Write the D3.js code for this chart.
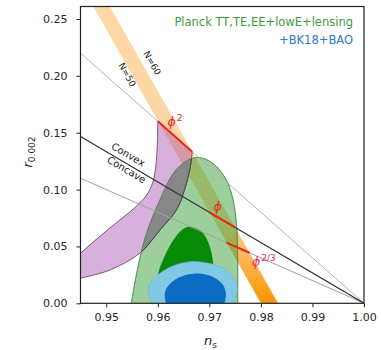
<!DOCTYPE html>
<html>
<head>
<meta charset="utf-8">
<script src="https://cdn.jsdelivr.net/npm/d3@7"></script>
<style>
  body { margin: 0; background: #fff; }
  svg { font-family: "DejaVu Sans", sans-serif; }
</style>
</head>
<body>
<svg id="chart" width="381" height="350"></svg>
<script>
// ---- data ----
const xTicks = [0.95, 0.96, 0.97, 0.98, 0.99, 1.00];
const yTicks = [0.00, 0.05, 0.10, 0.15, 0.20, 0.25];

// N=50 / N=60 edges of the phi^p band
const edgeN50 = [[0.9475, 0.261], [0.9800, 0.0]];
const edgeN60 = [[0.95070, 0.261], [0.98333, 0.0]];

// straight gray lines to (1, 0)
const lineUpper = [[0.945, 0.2200], [1.0, 0.0]];
const lineConvex = [[0.945, 0.1467], [1.0, 0.0]];
const lineLower = [[0.945, 0.1100], [1.0, 0.0]];

// red segments N=50..60
const segPhi2 = [[0.96000, 0.16000], [0.96667, 0.13333]];
const segPhi1 = [[0.97000, 0.08000], [0.97500, 0.06667]];
const segPhi23 = [[0.97333, 0.05333], [0.97778, 0.04444]];

// purple (natural inflation) band
const purpleOuter = [[0.9440, 0.0400], [0.9450, 0.0440], [0.9480, 0.0560], [0.9520, 0.0710], [0.9555, 0.0840],
  [0.9578, 0.0950], [0.9590, 0.1060], [0.9596, 0.1200], [0.9599, 0.1400], [0.9600, 0.1600]];
const purpleInner = [[0.96667, 0.13333], [0.9663, 0.1200], [0.9652, 0.1000], [0.9636, 0.0820], [0.9604, 0.0644],
  [0.9565, 0.0440], [0.9507, 0.0293], [0.9450, 0.0220], [0.9440, 0.0205]];

// Planck TT,TE,EE+lowE+lensing contours
const green95 = [[0.9548, -0.002], [0.9559, 0.0264], [0.9578, 0.0615], [0.9604, 0.0908], [0.9630, 0.1142],
  [0.9655, 0.1250], [0.9678, 0.1283], [0.9707, 0.1230], [0.9733, 0.1084], [0.9746, 0.0908],
  [0.9753, 0.0673], [0.9755, 0.0320], [0.9755, -0.002]];
const green68 = [[0.9598, 0.0000], [0.9601, 0.0264], [0.9610, 0.0380], [0.9630, 0.0556], [0.9648, 0.0650],
  [0.9662, 0.0673], [0.9676, 0.0655], [0.9688, 0.0615], [0.9701, 0.0497], [0.9707, 0.0366],
  [0.9712, 0.0000]];

// +BK18+BAO contours
const blue95 = [[0.9581, 0.0117], [0.9595, 0.0225], [0.9622, 0.0315], [0.9662, 0.0366], [0.9705, 0.0345],
  [0.9738, 0.0275], [0.9753, 0.0176], [0.9752, 0.0060], [0.9735, -0.006], [0.9660, -0.012],
  [0.9600, -0.006]];
const blue68 = [[0.9614, 0.0100], [0.9628, 0.0190], [0.9655, 0.0250], [0.9680, 0.0262], [0.9710, 0.0225],
  [0.9728, 0.0150], [0.9732, 0.0060], [0.9722, -0.004], [0.9660, -0.008], [0.9620, -0.003]];

const legendLines = ["Planck TT,TE,EE+lowE+lensing", "+BK18+BAO"];

// ---- layout ----
const svg = d3.select("#chart");
const mLeft = 80.5, mRight = 364, mTop = 6.5, mBottom = 303.3;

const x = d3.scaleLinear().domain([0.945, 1.0]).range([mLeft, mRight]);
const y = d3.scaleLinear().domain([0, 0.261]).range([mBottom, mTop]);

const defs = svg.append("defs");
defs.append("clipPath").attr("id", "plotClip")
  .append("rect").attr("x", mLeft).attr("y", mTop).attr("width", mRight - mLeft).attr("height", mBottom - mTop);

const green95Path = d3.line().x(d => x(d[0])).y(d => y(d[1])).curve(d3.curveCatmullRom.alpha(0.5));
defs.append("clipPath").attr("id", "greenClip")
  .append("path").attr("d", green95Path(green95) + "Z");

// band colour, light on top, orange near r=0
const grad = defs.append("linearGradient").attr("id", "bandGrad")
  .attr("gradientUnits", "userSpaceOnUse")
  .attr("x1", 0).attr("x2", 0).attr("y1", y(0.261)).attr("y2", y(0));
[[0.261, "#fdd9a8"], [0.075, "#fcd49e"], [0.04, "#fbb65a"], [0.0, "#ff9500"]].forEach(s => {
  grad.append("stop").attr("offset", (1 - s[0] / 0.261)).attr("stop-color", s[1]);
});

const g = svg.append("g").attr("clip-path", "url(#plotClip)");

const straight = d3.line().x(d => x(d[0])).y(d => y(d[1]));
const smooth = d3.line().x(d => x(d[0])).y(d => y(d[1])).curve(d3.curveCatmullRom.alpha(0.5));
const smoothClosed = d3.line().x(d => x(d[0])).y(d => y(d[1])).curve(d3.curveCatmullRomClosed.alpha(0.5));

// band
const band = edgeN50.concat(edgeN60.slice().reverse());
g.append("path").attr("d", straight(band) + "Z").attr("fill", "url(#bandGrad)");

// purple band
const purpleD = smooth(purpleOuter) + "L" + smooth(purpleInner).slice(1) + "Z";
g.append("path").attr("d", purpleD)
  .attr("fill", "#a650b0").attr("fill-opacity", 0.45)
  .attr("stroke", "#5a3a5a").attr("stroke-width", 0.8);

// green 95%
g.append("path").attr("d", green95Path(green95) + "Z")
  .attr("fill", "#2e9a2e").attr("fill-opacity", 0.47)
  .attr("stroke", "#3f8a3f").attr("stroke-width", 0.7);

// overlap of purple and green shows gray
g.append("g").attr("clip-path", "url(#greenClip)")
  .append("path").attr("d", purpleD)
  .attr("fill", "#878787").attr("fill-opacity", 1)
  .attr("stroke", "#3a3a3a").attr("stroke-width", 0.9);
g.append("path").attr("d", green95Path(green95) + "Z")
  .attr("fill", "none").attr("stroke", "#3f7a3f").attr("stroke-width", 0.6).attr("stroke-opacity", 0.7);

// green 68%
g.append("path").attr("d", smooth(green68) + "Z").attr("fill", "#078a07");

// blue
g.append("path").attr("d", smoothClosed(blue95)).attr("fill", "#80c8e6")
  .attr("stroke", "#6ab0d0").attr("stroke-width", 0.5);
g.append("path").attr("d", smoothClosed(blue68)).attr("fill", "#0a6cc0");

// gray lines
g.append("path").attr("d", straight(lineUpper)).attr("stroke", "#b4b4b4").attr("stroke-width", 1).attr("fill", "none");
g.append("path").attr("d", straight(lineLower)).attr("stroke", "#a0a0a0").attr("stroke-width", 1).attr("fill", "none");
g.append("path").attr("d", straight(lineConvex)).attr("stroke", "#333").attr("stroke-width", 1.2).attr("fill", "none");

// red segments
[segPhi2, segPhi1, segPhi23].forEach(s => {
  g.append("path").attr("d", straight(s)).attr("stroke", "#e8261c").attr("stroke-width", 2).attr("fill", "none");
});

// ---- axes ----
const xAxis = svg.append("g").attr("transform", `translate(0,${mBottom})`)
  .call(d3.axisBottom(x).tickValues(xTicks).tickSize(4).tickPadding(6).tickFormat(d3.format(".2f")));
const yAxis = svg.append("g").attr("transform", `translate(${mLeft},0)`)
  .call(d3.axisLeft(y).tickValues(yTicks).tickSize(4).tickPadding(9).tickFormat(d3.format(".2f")));
[xAxis, yAxis].forEach(a => {
  a.select(".domain").remove();
  a.selectAll("line").attr("stroke", "#222").attr("stroke-width", 1);
  a.selectAll("text").attr("font-size", 11).attr("fill", "#262626").attr("font-family", "DejaVu Sans");
});

svg.append("rect").attr("x", mLeft).attr("y", mTop).attr("width", mRight - mLeft).attr("height", mBottom - mTop)
  .attr("fill", "none").attr("stroke", "#222").attr("stroke-width", 1.2);

// axis labels
svg.append("text").attr("x", x(0.9702)).attr("y", 345).attr("text-anchor", "middle")
  .attr("font-size", 13).attr("fill", "#222")
  .call(t => {
    t.append("tspan").attr("font-style", "italic").text("n");
    t.append("tspan").attr("font-size", 9).attr("dy", 3).text("s");
  });
svg.append("text").attr("transform", "translate(32,152) rotate(-90)").attr("text-anchor", "middle")
  .attr("font-size", 13).attr("fill", "#222")
  .call(t => {
    t.append("tspan").attr("font-style", "italic").text("r");
    t.append("tspan").attr("font-size", 9).attr("dy", 3).text("0.002");
  });

// ---- annotations ----
function rotLabel(txt, px, py, ang, size) {
  svg.append("text").attr("transform", `translate(${px},${py}) rotate(${ang})`)
    .attr("text-anchor", "middle").attr("dominant-baseline", "middle")
    .attr("font-size", size).attr("fill", "#222").text(txt);
}
rotLabel("N=60", 151.7, 63.3, 61, 9);
rotLabel("N=50", 126.7, 75, 61, 9);
rotLabel("Convex", 128, 155, 30.5, 10);
rotLabel("Concave", 126.3, 170, 30.5, 10);

function phiLabel(px, py, sup, col) {
  const t = svg.append("text").attr("x", px).attr("y", py).attr("fill", col).attr("font-size", 12.5);
  t.append("tspan").attr("font-style", "italic").text("ϕ");
  if (sup) t.append("tspan").attr("font-size", 9).attr("dy", -5).attr("dx", 1).text(sup);
}
phiLabel(167.5, 126, "2", "#e8261c");
phiLabel(213.5, 211, null, "#e8261c");
phiLabel(252, 266, "2/3", "#e0304a");

// legend
const leg = svg.append("g").attr("font-size", 11.5).attr("text-anchor", "end");
leg.append("text").attr("x", 353).attr("y", 26).attr("fill", "#3c9c3c").text(legendLines[0]);
leg.append("text").attr("x", 353).attr("y", 44).attr("fill", "#2f7ad0").text(legendLines[1]);
</script>
</body>
</html>
